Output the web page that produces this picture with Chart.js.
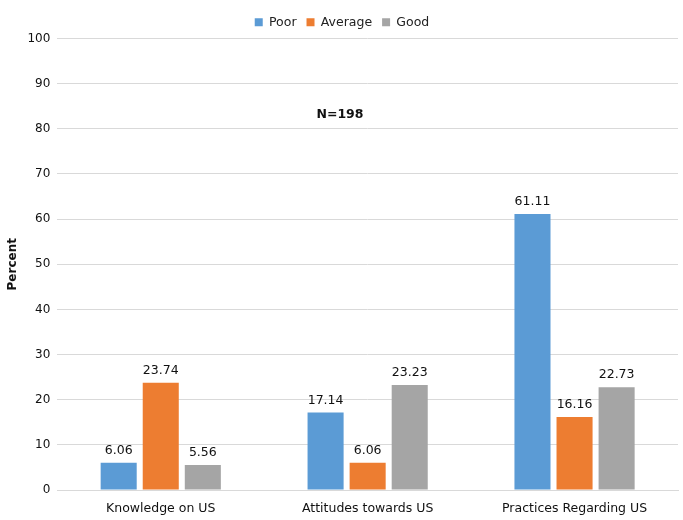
<!DOCTYPE html>
<html>
<head>
<meta charset="utf-8">
<script src="https://cdn.jsdelivr.net/npm/chart.js@4"></script>
<style>
  html, body { margin: 0; padding: 0; background: #fff; }
  #wrap { width: 683px; height: 520px; }
</style>
</head>
<body>
<div id="wrap"><canvas id="ctx"></canvas></div>
<script>
const categories = ['Knowledge on US', 'Attitudes towards US', 'Practices Regarding US'];
const poor = [6.06, 17.14, 61.11];
const average = [23.74, 6.06, 16.16];
const good = [5.56, 23.23, 22.73];
const seriesNames = ['Poor', 'Average', 'Good'];
const colors = ['#5b9bd5', '#ed7d31', '#a5a5a5'];

const FONT = "'DejaVu Sans', Verdana, sans-serif";

const labelPlugin = {
    id: 'labels',
    afterDatasetsDraw(chart) {
        const c = chart.ctx;
        c.save();
        c.font = '12.5px ' + FONT;
        c.fillStyle = '#111';
        c.textAlign = 'center';
        c.textBaseline = 'bottom';
        chart.data.datasets.forEach((ds, i) => {
            chart.getDatasetMeta(i).data.forEach((bar, j) => {
                c.fillText(ds.data[j].toFixed(2), bar.x, bar.y - 6);
            });
        });
        // sample size note
        const ys = chart.scales.y;
        c.font = 'bold 12.5px ' + FONT;
        c.textBaseline = 'middle';
        c.fillText('N=198', 340, ys.getPixelForValue(83.2));
        c.restore();
    }
};

let myChart = new Chart(document.getElementById('ctx'), {
    type: 'bar',
    data: {
        labels: categories,
        datasets: [poor, average, good].map((d, i) => ({
            label: seriesNames[i],
            data: d,
            backgroundColor: colors[i],
            categoryPercentage: 0.61,
            barPercentage: 0.857
        }))
    },
    options: {
        responsive: true,
        maintainAspectRatio: false,
        animation: false,
        layout: { padding: { left: 6, right: 5, top: 6, bottom: 1 } },
        plugins: {
            legend: {
                position: 'top',
                labels: {
                    boxWidth: 8,
                    boxHeight: 8,
                    padding: 10,
                    color: '#222',
                    font: { family: FONT, size: 12.5 }
                }
            },
            tooltip: { enabled: false }
        },
        scales: {
            x: {
                grid: { display: false },
                border: { color: '#d9d9d9' },
                ticks: { color: '#111', font: { family: FONT, size: 12.5 }, padding: 3 }
            },
            y: {
                min: 0,
                max: 100,
                ticks: { stepSize: 10, color: '#111', font: { family: FONT, size: 12 }, padding: 7 },
                grid: { color: '#d9d9d9', drawTicks: false },
                border: { display: false },
                title: {
                    display: true,
                    text: 'Percent',
                    color: '#111',
                    font: { family: FONT, size: 12, weight: 'bold' },
                    padding: { top: 0, bottom: 0 }
                }
            }
        }
    },
    plugins: [labelPlugin]
});
</script>
</body>
</html>
